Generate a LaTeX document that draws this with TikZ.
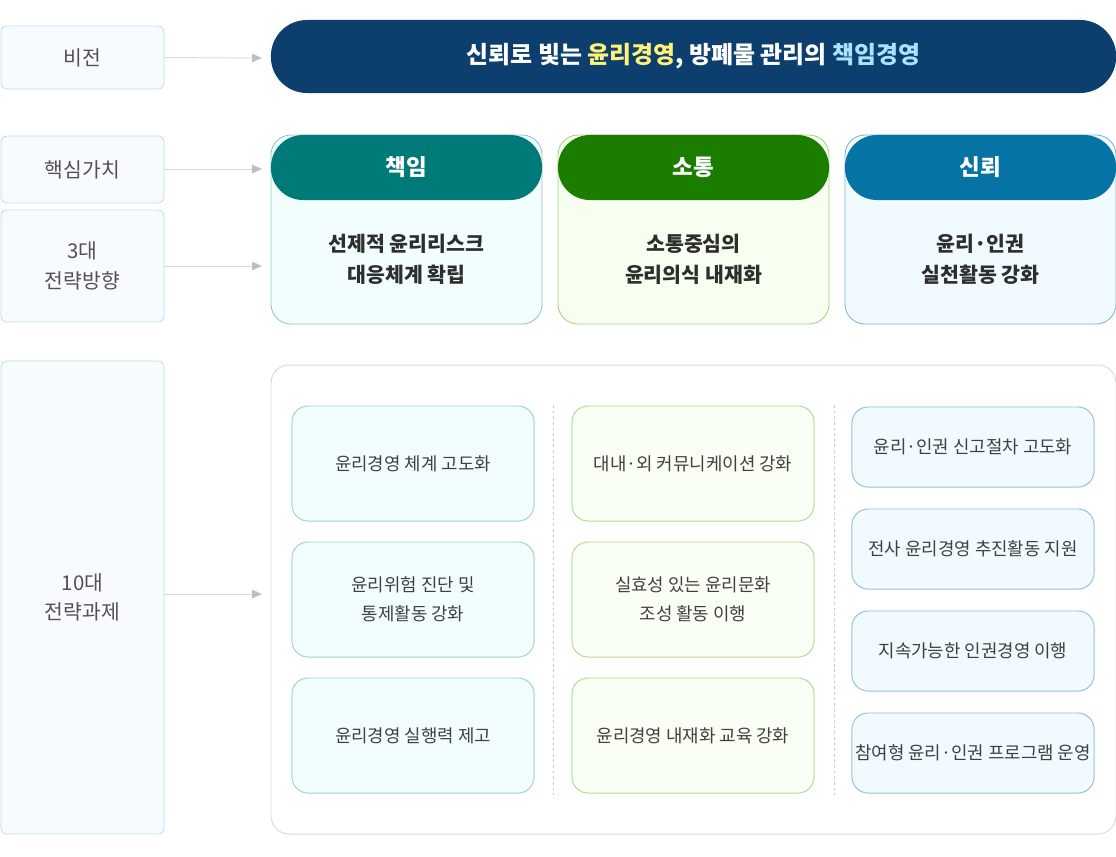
\documentclass[tikz,border=0pt]{standalone}
\usepackage{fontspec}
\setmainfont{Noto Sans CJK KR}
\usepackage{xcolor}
\usepackage{tikz}
\usetikzlibrary{arrows.meta}
\definecolor{navy}{HTML}{0D3F6E}
\definecolor{teal1}{HTML}{007A78}
\definecolor{green1}{HTML}{1A7D00}
\definecolor{blue1}{HTML}{0673A5}
\definecolor{hiyellow}{HTML}{FFF27A}
\definecolor{hiblue}{HTML}{A8E4FF}
\definecolor{labelline}{HTML}{BEDDF0}
\definecolor{labelfill}{HTML}{F7FBFE}
\definecolor{tealline}{HTML}{8FC4C6}
\definecolor{tealfill}{HTML}{F2FEFE}
\definecolor{greenline}{HTML}{A5CF7A}
\definecolor{greenfill}{HTML}{F6FFF0}
\definecolor{blueline}{HTML}{79B3CE}
\definecolor{bluefill}{HTML}{F1FAFF}

\begin{document}
\begin{tikzpicture}[x=0.025cm,y=-0.025cm,
    label/.style={draw=labelline,fill=labelfill,rounded corners=0.15cm,line width=0.6pt,
      minimum width=4.075cm,align=center,text=black!68,font=\fontsize{14.5}{21}\selectfont},
    link/.style={draw=black!15,line width=0.6pt,-{Triangle[length=7pt,width=6pt,color=black!25]}},
    head/.style={rounded corners=0.8cm,minimum width=6.775cm,minimum height=1.625cm,
      text=white,font=\fontsize{16}{18}\bfseries\selectfont},
    card/.style={rounded corners=0.5cm,line width=0.6pt,minimum width=6.775cm,minimum height=4.725cm},
    cardtext/.style={align=center,text=black!82,font=\fontsize{14.6}{22}\bfseries\selectfont},
    task/.style={rounded corners=0.4cm,line width=0.7pt,minimum width=6.05cm,inner xsep=1pt,align=center,
      text=black!75,font=\fontsize{12.7}{20.5}\selectfont}]
    \useasboundingbox (0,0) rectangle (1116,856);

    \node[label,minimum height=1.575cm] (vision) at (82.5,57.5) {비전};
    \node[label,minimum height=1.675cm] (value) at (82.5,169.5) {핵심가치};
    \node[label,minimum height=2.8cm] (strategy) at (82.5,266) {3대\\전략방향};
    \node[label,minimum height=11.825cm] (tasks) at (82.5,597.5) {10대\\전략과제};

    \coordinate (visionend) at (262,58);
    \coordinate (valueend) at (262,169);
    \coordinate (strategyend) at (262,266);
    \coordinate (tasksend) at (262,594);
    \draw[link] (vision.east) -- (visionend);
    \draw[link] (value.east |- valueend) -- (valueend);
    \draw[link] (strategy.east) -- (strategyend);
    \draw[link] (tasks.east |- tasksend) -- (tasksend);

    \node[fill=navy,rounded corners=0.9cm,minimum width=21.125cm,minimum height=1.825cm,
      text=white,font=\fontsize{17}{20}\bfseries\selectfont] (banner) at (693.5,56.5)
      {신뢰로 빛는 \textcolor{hiyellow}{윤리경영}, 방폐물 관리의 \textcolor{hiblue}{책임경영}};

    \node[card,draw=tealline,fill=tealfill] (resp) at (406.5,229.5) {};
    \node[card,draw=greenline,fill=greenfill] (comm) at (693.5,229.5) {};
    \node[card,draw=blueline,fill=bluefill] (trust) at (980.5,229.5) {};
    \node[head,fill=teal1] (resphead) at (406.5,167.5) {책임};
    \node[head,fill=green1] (commhead) at (693.5,167.5) {소통};
    \node[head,fill=blue1] (trusthead) at (980.5,167.5) {신뢰};
    \node[cardtext] (resptext) at (406.5,259) {선제적 윤리리스크\\대응체계 확립};
    \node[cardtext] (commtext) at (693.5,259) {소통중심의\\윤리의식 내재화};
    \node[cardtext] (trusttext) at (980.5,259) {윤리·인권\\실천활동 강화};

    \draw[black!14,line width=0.7pt,rounded corners=0.45cm,fill=white] (271,365) rectangle (1116,834);
    \draw[black!22,line width=0.5pt,dash pattern=on 2pt off 2pt] (553,405) -- (553,795);
    \draw[black!22,line width=0.5pt,dash pattern=on 2pt off 2pt] (834,405) -- (834,795);

    \tikzset{task1/.style={task,draw=tealline!80,fill=tealfill,minimum height=2.875cm},
      task2/.style={task,draw=greenline!80,fill=greenfill!70,minimum height=2.875cm},
      task3/.style={task,draw=blueline!80,fill=bluefill,minimum height=2.0cm}}
    \node[task1] (t1) at (413,463.5) {윤리경영 체계 고도화};
    \node[task1] (t2) at (413,599.5) {윤리위험 진단 및\\통제활동 강화};
    \node[task1] (t3) at (413,735.5) {윤리경영 실행력 제고};
    \node[task2] (t4) at (693,463.5) {대내·외 커뮤니케이션 강화};
    \node[task2] (t5) at (693,599.5) {실효성 있는 윤리문화\\조성 활동 이행};
    \node[task2] (t6) at (693,735.5) {윤리경영 내재화 교육 강화};
    \node[task3] (t7) at (973,447) {윤리·인권 신고절차 고도화};
    \node[task3] (t8) at (973,549) {전사 윤리경영 추진활동 지원};
    \node[task3] (t9) at (973,651) {지속가능한 인권경영 이행};
    \node[task3] (t10) at (973,753) {참여형 윤리·인권 프로그램 운영};
  \end{tikzpicture}
\end{document}
